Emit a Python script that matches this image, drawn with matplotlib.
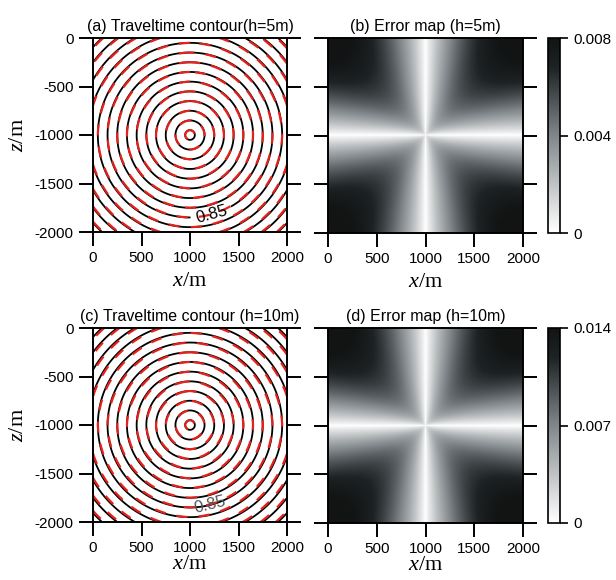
import numpy as np
import matplotlib
matplotlib.use('Agg')
import matplotlib.pyplot as plt
from matplotlib.colors import LinearSegmentedColormap

plt.rcParams['font.family'] = 'Liberation Sans'
plt.rcParams['axes.unicode_minus'] = False
plt.rcParams['mathtext.fontset'] = 'custom'
plt.rcParams['mathtext.rm'] = 'Liberation Serif'
plt.rcParams['mathtext.it'] = 'Liberation Serif:italic'

# model / data
fuente_x = 1000.0      # posicao da fonte (m)
fuente_z = -1000.0
velocidade = 1000.0    # m/s
erro_max = [0.0088, 0.0155]     # erro nos cantos (s)
cbar_max = [0.008, 0.014]
cbar_ticks = [[0, 0.004, 0.008], [0, 0.007, 0.014]]
cbar_labels = [['0', '0.004', '0.008'], ['0', '0.007', '0.014']]
niveis = [0.05, 0.15, 0.25, 0.35, 0.45, 0.55, 0.65, 0.75, 0.85, 0.95,
          1.05, 1.15, 1.25, 1.35, 1.45]
rotulo_nivel = 0.85
pos_rotulo = [(1215, -1800), (1195, -1790)]
rotulo_inline = [True, False]
titulos_contorno = ['(a) Traveltime contour(h=5m)', '(c) Traveltime contour (h=10m)']
titulos_erro = ['(b) Error map (h=5m)', '(d) Error map (h=10m)']
xticks = [0, 500, 1000, 1500, 2000]
zticks = [0, -500, -1000, -1500, -2000]

# grade
x = np.linspace(0, 2000, 401)
z = np.linspace(0, -2000, 401)
X, Z = np.meshgrid(x, z)
R = np.hypot(X - fuente_x, Z - fuente_z)
TH = np.arctan2(Z - fuente_z, X - fuente_x)
t_exato = R / velocidade

cmap = LinearSegmentedColormap.from_list(
    'erro', [(0, '#ffffff'), (0.5, '#80868a'), (0.85, '#1d2224'), (1, '#121414')])

fig = plt.figure(figsize=(6.16, 5.8), dpi=100)

def caixa(l, t, r, b):
    return [l / 616, 1 - b / 580, (r - l) / 616, (b - t) / 580]

def estilo(ax, rotulos_y, pad_x):
    ax.set_xlim(0, 2000)
    ax.set_ylim(-2000, 0)
    ax.set_xticks(xticks)
    ax.set_yticks(zticks)
    ax.tick_params(direction='out', length=10, width=1.4, labelsize=11,
                   right=True, top=False, labelleft=rotulos_y, pad=4)
    for s in ax.spines.values():
        s.set_linewidth(1.4)
    ax.set_xlabel(r'$x$/m', fontsize=16, family='Liberation Serif', labelpad=pad_x)
    if rotulos_y:
        ax.set_ylabel(r'$z$/m', fontsize=16, family='Liberation Serif', labelpad=5)

niveis_sem = [lv for lv in niveis if lv != rotulo_nivel]

linhas = [(38, 232, 38, 233), (328, 522, 328, 523)]
pads = [5, 0]
for i in range(2):
    ta, ba, tb, bb = linhas[i]
    erro = erro_max[i] * (R / 1414.0) ** 0.5 * np.abs(np.sin(2 * TH)) ** 0.9
    t_num = t_exato + erro

    ax1 = fig.add_axes(caixa(93, ta, 287, ba))
    ax1.contour(X, Z, t_exato, levels=niveis_sem, colors='black', linewidths=1.3)
    cs = ax1.contour(X, Z, t_exato, levels=[rotulo_nivel], colors='black', linewidths=1.3)
    ax1.contour(X, Z, t_num, levels=niveis, colors='#e3221c', linewidths=1.6,
                linestyles=[(0, (5, 5))])
    rot = ax1.clabel(cs, fmt='%.2f', fontsize=12, manual=[pos_rotulo[i]],
                     inline=rotulo_inline[i])
    if not rotulo_inline[i]:
        for t in rot:
            t.set_color('#555555')
    estilo(ax1, True, pads[i])
    ax1.set_title(titulos_contorno[i], fontsize=11.5, pad=5)

    ax2 = fig.add_axes(caixa(328, tb, 523, bb))
    im = ax2.imshow(erro, extent=[0, 2000, -2000, 0], cmap=cmap, vmin=0,
                    vmax=cbar_max[i], aspect='auto', origin='upper')
    estilo(ax2, False, pads[i])
    ax2.set_title(titulos_erro[i], fontsize=11.5, pad=5)

    cax = fig.add_axes(caixa(548, tb, 560, bb))
    cb = fig.colorbar(im, cax=cax, ticks=cbar_ticks[i])
    cb.ax.set_yticklabels(cbar_labels[i])
    cb.ax.tick_params(length=6, width=1.2, labelsize=11)
    cb.outline.set_linewidth(1.2)

fig.savefig('out.png', dpi=100)
